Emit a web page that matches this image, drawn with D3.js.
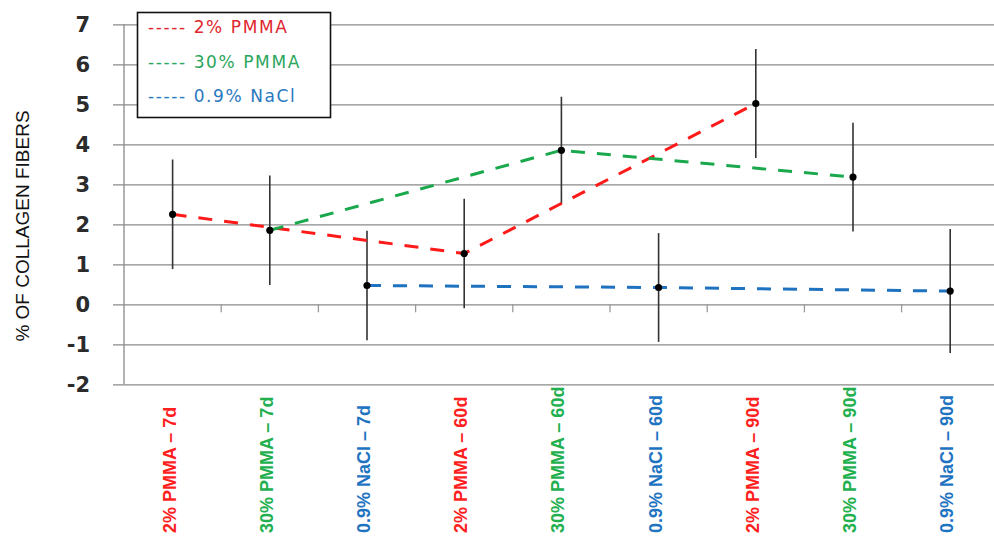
<!DOCTYPE html>
<html lang="en">
<head>
    <meta charset="utf-8">
    <title>Collagen fibers chart</title>
    <script src="https://d3js.org/d3.v7.min.js"></script>
<style>
    body { margin: 0; background: #fff; }
    #chart1 { width: 994px; height: 540px; }
</style>
</head>
<body>
  <div id="chart1"></div>

<script>

    // categories along the bottom, and which group each belongs to
    const categories = [
        "2% PMMA \u2013 7d", "30% PMMA \u2013 7d", "0.9% NaCl \u2013 7d",
        "2% PMMA \u2013 60d", "30% PMMA \u2013 60d", "0.9% NaCl \u2013 60d",
        "2% PMMA \u2013 90d", "30% PMMA \u2013 90d", "0.9% NaCl \u2013 90d"
    ]
    const categoryGroup = [0, 1, 2, 0, 1, 2, 0, 1, 2]

    const seriesNames = ["2% PMMA", "30% PMMA", "0.9% NaCl"]

    // values per series at 7d, 60d, 90d
    const pmma2Values = [2.25, 1.27, 5.02]
    const pmma2Errors = [1.37, 1.37, 1.36]
    const pmma30Values = [1.85, 3.85, 3.18]
    const pmma30Errors = [1.37, 1.34, 1.36]
    const naclValues = [0.47, 0.42, 0.33]
    const naclErrors = [1.37, 1.36, 1.55]

    const yTicks = [-2, -1, 0, 1, 2, 3, 4, 5, 6, 7]

    const chartApp = {}

    chartApp.lineColors = ["#ff1a1a", "#1aa84c", "#1f72c0"]
    chartApp.labelColors = ["#ff1f1f", "#22b04f", "#1f74c2"]
    chartApp.legendColors = ["#e0262e", "#2aa55c", "#2a78c0"]

    chartApp.buildChart = () => {

        d3.select('#chart1').html('')

        var svg = d3.select("#chart1")
            .append("svg")
            .attr("width", 994)
            .attr("height", 540)

        var left = 124, bandW = 97.2

        var x = d3.scaleBand()
            .domain(categories)
            .range([left, left + bandW * categories.length])

        var y = d3.scaleLinear()
            .domain([-2, 7])
            .range([384.3, 24.3])

        // gridlines + y labels
        var yAxis = svg.append("g")
            .attr("transform", "translate(" + left + ",0)")
            .call(d3.axisLeft(y)
                .tickValues(yTicks)
                .tickSizeInner(-(1000 - left))
                .tickSizeOuter(0)
                .tickPadding(34)
                .tickFormat(d => String(d)))
        yAxis.select(".domain").remove()
        yAxis.selectAll(".tick line")
            .attr("x1", -11)
            .attr("stroke", "#8a8a8a")
            .attr("stroke-width", 1.3)
        yAxis.selectAll(".tick text")
            .attr("fill", "#2b2b2b")
            .style("font-family", "'DejaVu Sans', Verdana, sans-serif")
            .style("font-size", "21px")
            .style("font-weight", "bold")

        // vertical axis line
        svg.append("line")
            .attr("x1", left).attr("x2", left)
            .attr("y1", y(7)).attr("y2", y(-2))
            .attr("stroke", "#8a8a8a")
            .attr("stroke-width", 1.3)

        // small ticks on zero line between categories
        svg.append("g")
            .selectAll("line")
            .data(categories.slice(1))
            .enter()
            .append("line")
            .attr("x1", d => x(d)).attr("x2", d => x(d))
            .attr("y1", y(0)).attr("y2", y(0) + 8)
            .attr("stroke", "#9a9a9a")
            .attr("stroke-width", 1.3)

        // category labels
        svg.append("g")
            .selectAll("text")
            .data(categories)
            .enter()
            .append("text")
            .attr("transform", d => "translate(" + (x(d) + x.bandwidth() / 2 - 3) + ",533) rotate(-90)")
            .attr("dominant-baseline", "central")
            .attr("fill", (d, i) => chartApp.labelColors[categoryGroup[i]])
            .style("font-family", "'Liberation Sans', Arial, sans-serif")
            .style("font-size", "18px")
            .style("font-weight", "bold")
            .text(d => d)

        // y title
        svg.append("text")
            .attr("transform", "translate(22,226) rotate(-90)")
            .attr("text-anchor", "middle")
            .attr("dominant-baseline", "central")
            .attr("fill", "#111")
            .style("font-family", "'Liberation Sans', Arial, sans-serif")
            .style("font-size", "19px")
            .text("% OF COLLAGEN FIBERS")

        // build series from the arrays
        var allValues = [pmma2Values, pmma30Values, naclValues]
        var allErrors = [pmma2Errors, pmma30Errors, naclErrors]
        var series = seriesNames.map((name, s) => {
            var cats = categories.filter((c, i) => categoryGroup[i] === s)
            return cats.map((c, j) => ({ cat: c, value: allValues[s][j], err: allErrors[s][j] }))
        })

        var cx = d => x(d.cat) + x.bandwidth() / 2

        var line = d3.line()
            .x(cx)
            .y(d => y(d.value))

        // error bars under the lines
        var errG = svg.append("g")
        series.forEach(pts => {
            errG.selectAll(null)
                .data(pts)
                .enter()
                .append("line")
                .attr("x1", cx).attr("x2", cx)
                .attr("y1", d => y(d.value + d.err))
                .attr("y2", d => y(d.value - d.err))
                .attr("stroke", "#333")
                .attr("stroke-width", 1.6)
        })

        svg.append("g")
            .selectAll("path")
            .data(series)
            .enter()
            .append("path")
            .attr("d", line)
            .attr("fill", "none")
            .attr("stroke", (d, i) => chartApp.lineColors[i])
            .attr("stroke-width", 3)
            .attr("stroke-dasharray", "14,12")

        var dotG = svg.append("g")
        series.forEach(pts => {
            dotG.selectAll(null)
                .data(pts)
                .enter()
                .append("circle")
                .attr("cx", cx)
                .attr("cy", d => y(d.value))
                .attr("r", 3.6)
                .attr("fill", "#000")
        })

        // legend box
        var legend = svg.append("g")
        legend.append("rect")
            .attr("x", 137.5).attr("y", 12.5)
            .attr("width", 193).attr("height", 105)
            .attr("fill", "#fff")
            .attr("stroke", "#111")
            .attr("stroke-width", 1.6)

        legend.selectAll("text")
            .data(seriesNames)
            .enter()
            .append("text")
            .attr("x", 148)
            .attr("y", (d, i) => 27 + i * 34.5)
            .attr("dominant-baseline", "central")
            .attr("fill", (d, i) => chartApp.legendColors[i])
            .style("font-family", "'DejaVu Sans', Verdana, sans-serif")
            .style("font-size", "17px")
            .style("letter-spacing", "1.6px")
            .text(d => "----- " + d)
    }

    chartApp.init = () => {
        chartApp.buildChart()
    }
    chartApp.init()

</script>
</body>
</html>
